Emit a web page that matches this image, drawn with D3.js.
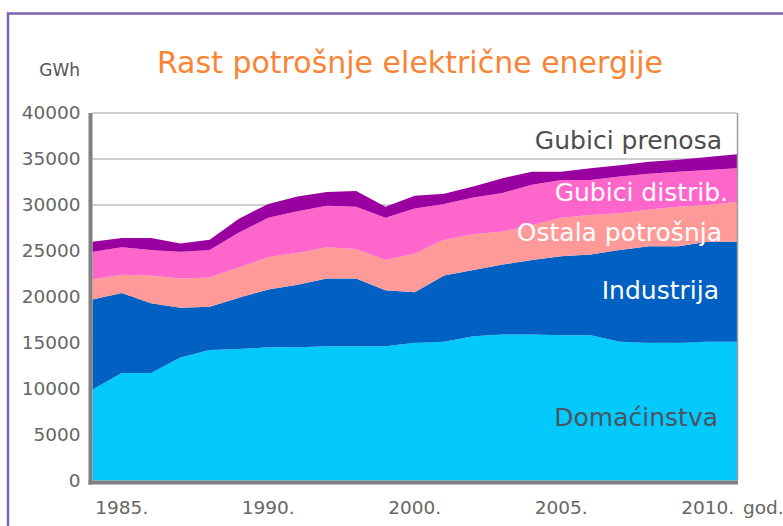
<!DOCTYPE html>
<html>
<head>
<meta charset="utf-8">
<script src="https://cdn.jsdelivr.net/npm/d3@7"></script>
<style>
  body { margin: 0; background: #fff; }
  svg { display: block; font-family: "DejaVu Sans", Verdana, sans-serif; }
</style>
</head>
<body>
<div id="chart"></div>
<script>
// years on the category axis (1991-1995 are not shown in the source chart)
const years = [1984, 1985, 1986, 1987, 1988, 1989, 1990,
  1996, 1997, 1998, 1999, 2000, 2001, 2002, 2003, 2004, 2005,
  2006, 2007, 2008, 2009, 2010, 2011]

// GWh
const domacinstva = [9900, 11700, 11700, 13400, 14200, 14300, 14500, 14500, 14600, 14600, 14600, 15000, 15100, 15700, 15900, 15900, 15800, 15800, 15100, 15000, 15000, 15100, 15100]
const industrija = [9800, 8700, 7600, 5400, 4700, 5600, 6300, 6800, 7400, 7400, 6100, 5500, 7200, 7200, 7600, 8100, 8600, 8800, 10000, 10500, 10500, 10900, 10900]
const ostala = [2200, 2000, 3000, 3200, 3200, 3300, 3500, 3500, 3400, 3200, 3300, 4200, 3900, 3900, 3600, 3800, 4200, 4300, 4000, 4000, 4300, 4000, 4300]
const gubiciDistrib = [3000, 3000, 2800, 2900, 3000, 3800, 4300, 4500, 4500, 4600, 4600, 4900, 3900, 4000, 4200, 4400, 4100, 3800, 4000, 3900, 3800, 3800, 3700]
const gubiciPrenosa = [1100, 1000, 1300, 900, 1100, 1500, 1500, 1600, 1500, 1700, 1200, 1400, 1100, 1200, 1600, 1400, 900, 1300, 1200, 1300, 1300, 1400, 1500]

const seriesNames = ["Domaćinstva", "Industrija", "Ostala potrošnja", "Gubici distrib.", "Gubici prenosa"]
const seriesValues = [domacinstva, industrija, ostala, gubiciDistrib, gubiciPrenosa]

const yTicks = [0, 5000, 10000, 15000, 20000, 25000, 30000, 35000, 40000]
const xTickYears = [1985, 1990, 2000, 2005, 2010]
const xTickLabels = ["1985.", "1990.", "2000.", "2005.", "2010."]

const colors = ["#04c9fd", "#0061c3", "#ff9a99", "#ff66cc", "#99009f"]

const MARGIN = { TOP: 113, LEFT: 92.5, RIGHT: 46, BOTTOM: 45.5 }
const WIDTH = 783 - MARGIN.LEFT - MARGIN.RIGHT
const HEIGHT = 526 - MARGIN.TOP - MARGIN.BOTTOM

const svg = d3.select("#chart").append("svg")
  .attr("width", 783)
  .attr("height", 526)

// purple frame
svg.append("rect")
  .attr("x", 8).attr("y", 13.5)
  .attr("width", 800).attr("height", 540)
  .attr("fill", "none")
  .attr("stroke", "#7d62b3")
  .attr("stroke-width", 2.5)

svg.append("text")
  .attr("x", 410).attr("y", 73)
  .attr("text-anchor", "middle")
  .attr("font-size", "30px")
  .attr("fill", "#fb8434")
  .text("Rast potrošnje električne energije")

svg.append("text")
  .attr("x", 80).attr("y", 76)
  .attr("text-anchor", "end")
  .attr("font-size", "17px")
  .attr("fill", "#555")
  .text("GWh")

const g = svg.append("g")
  .attr("transform", `translate(${MARGIN.LEFT}, ${MARGIN.TOP})`)

const x = d3.scalePoint()
  .domain(years)
  .range([0, WIDTH])

const y = d3.scaleLinear()
  .domain([0, 40000])
  .range([HEIGHT, 0])

// gridlines
g.selectAll("line.grid")
  .data(yTicks.filter(d => d > 0))
  .enter().append("line")
    .attr("class", "grid")
    .attr("x1", 0).attr("x2", WIDTH)
    .attr("y1", d => y(d)).attr("y2", d => y(d))
    .attr("stroke", "#bdbdbd")
    .attr("stroke-width", 1.5)

// stacked areas
const rows = years.map((yr, i) => {
  const row = { year: yr }
  seriesNames.forEach((name, k) => { row[name] = seriesValues[k][i] })
  return row
})

const stacked = d3.stack().keys(seriesNames)(rows)

const area = d3.area()
  .x(d => x(d.data.year))
  .y0(d => y(d[0]))
  .y1(d => y(d[1]))

g.selectAll("path.layer")
  .data(stacked)
  .enter().append("path")
    .attr("class", "layer")
    .attr("d", area)
    .attr("fill", (d, i) => colors[i])

// right border
g.append("line")
  .attr("x1", WIDTH + 0.5).attr("x2", WIDTH + 0.5)
  .attr("y1", 0).attr("y2", HEIGHT)
  .attr("stroke", "#9a9a9a")
  .attr("stroke-width", 1.5)

// axis lines
g.append("line")
  .attr("x1", -2).attr("x2", -2)
  .attr("y1", 0).attr("y2", HEIGHT + 4)
  .attr("stroke", "#808080")
  .attr("stroke-width", 4)

g.append("line")
  .attr("x1", -4).attr("x2", WIDTH + 1)
  .attr("y1", HEIGHT + 2).attr("y2", HEIGHT + 2)
  .attr("stroke", "#808080")
  .attr("stroke-width", 4)

// y axis labels
const yAxis = g.append("g")
  .call(d3.axisLeft(y).tickValues(yTicks).tickSize(0).tickPadding(12).tickFormat(d3.format("d")))
yAxis.select(".domain").remove()
yAxis.selectAll("text")
  .attr("font-family", "DejaVu Sans, Verdana, sans-serif")
  .attr("font-size", "18.5px")
  .attr("fill", "#666")

// x axis labels
g.selectAll("text.xlab")
  .data(xTickYears)
  .enter().append("text")
    .attr("class", "xlab")
    .attr("x", d => x(d))
    .attr("y", HEIGHT + 33)
    .attr("text-anchor", "middle")
    .attr("font-size", "18.5px")
    .attr("fill", "#666")
    .text((d, i) => xTickLabels[i])

g.append("text")
  .attr("x", WIDTH + 6)
  .attr("y", HEIGHT + 33)
  .attr("font-size", "18.5px")
  .attr("fill", "#666")
  .text("god.")

// series labels
const seriesLabels = [
  { name: "Gubici prenosa", at: 36100, dx: -15, fill: "#4d4d4d" },
  { name: "Gubici distrib.", at: 30400, dx: -9, fill: "#fff" },
  { name: "Ostala potrošnja", at: 26100, dx: -15, fill: "#fff" },
  { name: "Industrija", at: 19800, dx: -18, fill: "#fff" },
  { name: "Domaćinstva", at: 5900, dx: -19, fill: "#4a5560" }
]

g.selectAll("text.slab")
  .data(seriesLabels)
  .enter().append("text")
    .attr("class", "slab")
    .attr("x", d => WIDTH + d.dx)
    .attr("y", d => y(d.at))
    .attr("text-anchor", "end")
    .attr("font-size", "25px")
    .attr("fill", d => d.fill)
    .text(d => d.name)
</script>
</body>
</html>
